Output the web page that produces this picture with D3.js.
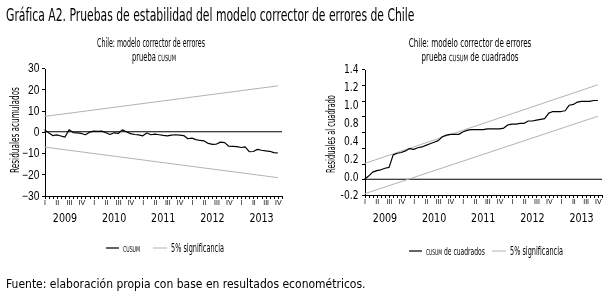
<!DOCTYPE html>
<html lang="es">
<head>
<meta charset="UTF-8">
<title>Gráfica A2</title>
<style>
  body { margin: 0; background: #fff; }
  svg { display: block; will-change: transform; font-family: "Liberation Sans Narrow", "DejaVu Sans Condensed", "Roboto", sans-serif; }
  .axis path, .axis line { stroke: #000; stroke-width: 1; shape-rendering: crispEdges; }
  .axis text { fill: #000; font-family: inherit; }
  .narrow { transform: scale(0.85, 1); }
</style>
</head>
<body>
<div id="main"></div>
<script src="https://cdn.jsdelivr.net/npm/d3@7/dist/d3.min.js"></script>
<script>
// datos mensuales, de 2009-01 a 2013-10 (58 meses)
const years = ['2009', '2010', '2011', '2012', '2013']
const quarters = ['I', 'II', 'III', 'IV']

// prueba CUSUM
const cusum = [
  1.0, -0.5, -1.8, -1.5, -2.0, -2.5, 0.9, -0.4, -0.5, -0.8,
  -1.4, -0.2, 0.3, 0.2, 0.3, -0.5, -1.3, -0.5, -0.8, 0.9,
  0.0, -0.9, -1.3, -1.5, -1.9, -0.6, -1.4, -1.1, -1.4, -1.7,
  -1.9, -1.6, -1.4, -1.6, -1.8, -3.3, -3.0, -3.7, -4.1, -4.3,
  -5.5, -5.9, -5.8, -4.9, -5.1, -6.8, -6.9, -7.0, -7.4, -7.1,
  -9.4, -9.3, -8.3, -8.7, -9.0, -9.2, -9.8, -10.0
]
const cusumUpper = [7.2, 21.6]   // banda 5%, inicio y fin
const cusumLower = [-7.2, -21.6]
const cusumTicks = [-30, -20, -10, 0, 10, 20, 30]

// prueba CUSUM de cuadrados
const cusumSq = [
  0.00, 0.04, 0.09, 0.11, 0.12, 0.14, 0.15, 0.31, 0.33, 0.34,
  0.36, 0.39, 0.38, 0.40, 0.41, 0.43, 0.45, 0.47, 0.49, 0.54,
  0.56, 0.57, 0.57, 0.57, 0.60, 0.62, 0.63, 0.63, 0.63, 0.63,
  0.64, 0.64, 0.64, 0.64, 0.65, 0.69, 0.70, 0.70, 0.71, 0.71,
  0.74, 0.74, 0.75, 0.76, 0.77, 0.84, 0.86, 0.86, 0.86, 0.87,
  0.94, 0.95, 0.98, 0.99, 0.99, 0.99, 1.00, 1.00
]
const sqUpper = [0.2, 1.2]
const sqLower = [-0.185, 0.8]
const sqTicks = [-0.2, 0, 0.2, 0.4, 0.6, 0.8, 1.0, 1.2, 1.4]
// las etiquetas del original (sin 0.6) van repartidas a lo largo del eje
const sqTickLabels = ['1.4', '1.2', '1.0', '0.8', '0.4', '0.2', '0.0', '-0.2']

const [width, height] = [610, 301]
const svg = d3.select('#main').append('svg')
  .attr('width', width)
  .attr('height', height)
  .attr('viewBox', `0 0 ${width} ${height}`)

svg.append('rect').attr('width', width).attr('height', height).attr('fill', '#fff')

// texto angosto: se escala en x hasta el ancho w
function label(parent, x, y, anchor, size, w, fill, rot) {
  const g = parent.append('g')
    .attr('transform', `translate(${x},${y})` + (rot ? ` rotate(${rot})` : ''))
  const t = g.append('text').attr('font-size', size).attr('text-anchor', anchor)
  fill(t)
  const bw = t.node().getComputedTextLength()
  if (w && bw > 0) t.attr('transform', `scale(${w / bw},1)`)
  return t
}

// título y fuente
label(svg, 6, 21, 'start', 17.5, 409, t => t.text('Gráfica A2. Pruebas de estabilidad del modelo corrector de errores de Chile'))
label(svg, 6, 288, 'start', 13, 360, t => t.text('Fuente: elaboración propia con base en resultados econométricos.'))

const gray = '#b3b3b3'

function panel(cfg) {
  const g = svg.append('g')
  const n = cfg.values.length

  const x = d3.scaleLinear().domain([0, n]).range([cfg.left, cfg.right])
  const y = d3.scaleLinear().domain(cfg.domain).range([cfg.bottom, cfg.top])

  // subtítulos
  label(g, cfg.titleX, 46.5, 'middle', 11.5, cfg.titleLen, t => t.text('Chile: modelo corrector de errores'))
  label(g, cfg.subX, 60.5, 'middle', 11.5, cfg.subLen, t => {
    t.append('tspan').text('prueba ')
    t.append('tspan').attr('font-size', 8.5).text('CUSUM')
    if (cfg.subRest) t.append('tspan').text(cfg.subRest)
  })

  // eje y
  const yAxis = d3.axisLeft(y).tickValues(cfg.ticks).tickSize(3).tickSizeOuter(0)
  if (cfg.tickLabels) yAxis.tickFormat('')
  const gy = g.append('g').attr('class', 'axis')
    .attr('transform', `translate(${cfg.left},0)`)
    .call(yAxis)
  gy.selectAll('text').attr('font-size', 12).attr('class', 'narrow')

  if (cfg.tickLabels) {
    const yl = d3.scalePoint().domain(cfg.tickLabels).range([cfg.top, cfg.bottom])
    g.append('g').selectAll('g').data(cfg.tickLabels).join('g')
      .attr('transform', d => `translate(${cfg.left - 6},${yl(d)})`)
      .append('text')
      .attr('class', 'narrow')
      .attr('dy', '0.35em').attr('text-anchor', 'end').attr('font-size', 12)
      .text(d => d)
  }

  // eje x mensual con trimestres
  const xAxis = d3.axisBottom(x)
    .tickValues(d3.range(0, n + 1))
    .tickSize(3).tickSizeOuter(0).tickPadding(1.5)
    .tickFormat(i => (i % 3 === 0 && i < n) ? quarters[(i / 3) % 4] : '')
  const gx = g.append('g').attr('class', 'axis')
    .attr('transform', `translate(0,${cfg.bottom})`)
    .call(xAxis)
  gx.selectAll('text').attr('font-size', 7)

  g.append('g').selectAll('g').data(years).join('g')
    .attr('transform', (d, k) => `translate(${x(12 * k + 5)},221.5)`)
    .append('text')
    .attr('class', 'narrow')
    .attr('text-anchor', 'middle').attr('font-size', 12.5)
    .text(d => d)

  // título eje y
  label(g, cfg.yTitleX, cfg.yTitleY, 'middle', 13, cfg.yTitleLen, t => t.text(cfg.yTitle), -90)

  // línea de cero
  g.append('line')
    .attr('x1', cfg.left).attr('x2', x(n))
    .attr('y1', y(0)).attr('y2', y(0))
    .attr('stroke', '#000').attr('stroke-width', 1.2)

  // bandas 5%
  const band = d3.line().x((d, i) => x(i * (n - 1))).y(d => y(d))
  ;[cfg.upper, cfg.lower].forEach(b => {
    g.append('path').attr('d', band(b))
      .attr('fill', 'none').attr('stroke', gray).attr('stroke-width', 1)
  })

  // serie
  const line = d3.line().x((d, i) => x(i)).y(d => y(d))
  g.append('path').attr('d', line(cfg.values))
    .attr('fill', 'none').attr('stroke', '#000').attr('stroke-width', 1.2)
    .attr('stroke-linejoin', 'round')

  // leyenda
  const L = cfg.legend
  g.append('line').attr('x1', L.x0).attr('x2', L.x0 + 13).attr('y1', L.y).attr('y2', L.y)
    .attr('stroke', '#000').attr('stroke-width', 1.2)
  label(g, L.x0 + 17, L.y + 3.5, 'start', 11, L.len1, t => {
    t.append('tspan').attr('font-size', 8).text('CUSUM')
    if (cfg.subRest) t.append('tspan').text(cfg.subRest)
  })
  g.append('line').attr('x1', L.x1).attr('x2', L.x1 + 14).attr('y1', L.y).attr('y2', L.y)
    .attr('stroke', gray).attr('stroke-width', 1)
  label(g, L.x1 + 18, L.y + 4, 'start', 11.5, 53, t => t.text('5% significancia'))
}

panel({
  values: cusum, upper: cusumUpper, lower: cusumLower,
  domain: [-30, 30], ticks: cusumTicks,
  left: 44.5, right: 282, top: 68, bottom: 195.5,
  titleX: 151, titleLen: 108, subX: 154, subLen: 44, subRest: null,
  yTitle: 'Residuales acumulados', yTitleX: 19, yTitleY: 130, yTitleLen: 86,
  legend: { x0: 106, x1: 153, y: 248, len1: 17 }
})

panel({
  values: cusumSq, upper: sqUpper, lower: sqLower,
  domain: [-0.2, 1.4], ticks: sqTicks, tickLabels: sqTickLabels,
  left: 364.5, right: 602, top: 69, bottom: 195,
  titleX: 470, titleLen: 123, subX: 470, subLen: 97, subRest: ' de cuadrados',
  yTitle: 'Residuales al cuadrado', yTitleX: 335, yTitleY: 134, yTitleLen: 78,
  legend: { x0: 409, x1: 492, y: 251, len1: 59 }
})
</script>
</body>
</html>
